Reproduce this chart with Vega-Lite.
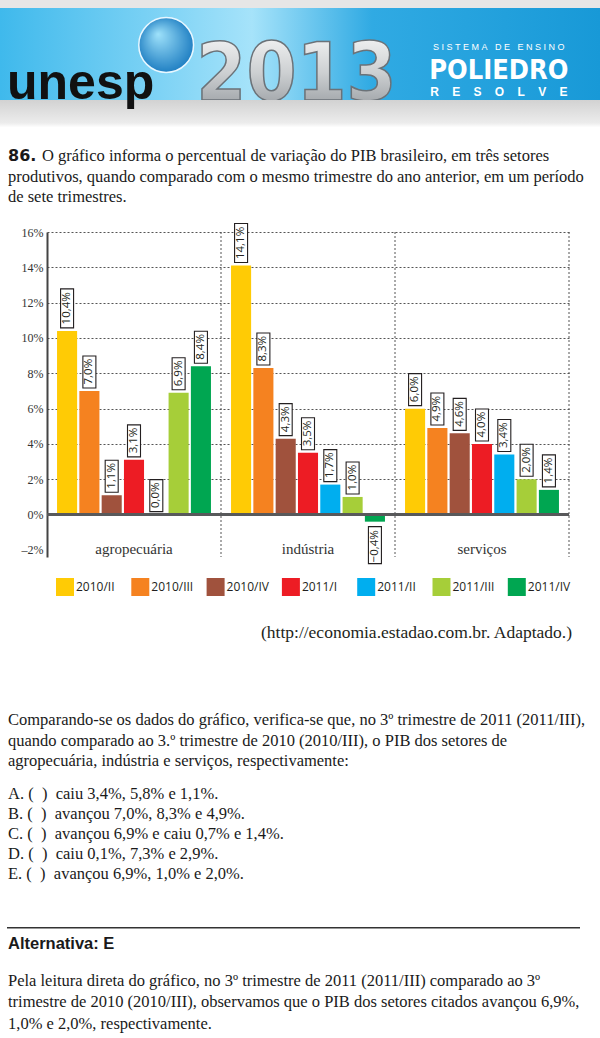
{
  "$schema": "https://vega.github.io/schema/vega-lite/v6.json",
  "background": "white",
  "padding": 0,
  "spacing": 0,
  "bounds": "flush",
  "resolve": {"scale": {"color": "independent"}, "legend": {"color": "independent"}},
  "config": {"view": {"stroke": null}},
  "datasets": {
    "pib": [
      {"setor": "agropecuária", "trimestre": "2010/II", "v": 10.4},
      {"setor": "agropecuária", "trimestre": "2010/III", "v": 7.0},
      {"setor": "agropecuária", "trimestre": "2010/IV", "v": 1.1},
      {"setor": "agropecuária", "trimestre": "2011/I", "v": 3.1},
      {"setor": "agropecuária", "trimestre": "2011/II", "v": 0.0},
      {"setor": "agropecuária", "trimestre": "2011/III", "v": 6.9},
      {"setor": "agropecuária", "trimestre": "2011/IV", "v": 8.4},
      {"setor": "indústria", "trimestre": "2010/II", "v": 14.1},
      {"setor": "indústria", "trimestre": "2010/III", "v": 8.3},
      {"setor": "indústria", "trimestre": "2010/IV", "v": 4.3},
      {"setor": "indústria", "trimestre": "2011/I", "v": 3.5},
      {"setor": "indústria", "trimestre": "2011/II", "v": 1.7},
      {"setor": "indústria", "trimestre": "2011/III", "v": 1.0},
      {"setor": "indústria", "trimestre": "2011/IV", "v": -0.4},
      {"setor": "serviços", "trimestre": "2010/II", "v": 6.0},
      {"setor": "serviços", "trimestre": "2010/III", "v": 4.9},
      {"setor": "serviços", "trimestre": "2010/IV", "v": 4.6},
      {"setor": "serviços", "trimestre": "2011/I", "v": 4.0},
      {"setor": "serviços", "trimestre": "2011/II", "v": 3.4},
      {"setor": "serviços", "trimestre": "2011/III", "v": 2.0},
      {"setor": "serviços", "trimestre": "2011/IV", "v": 1.4}
    ]
  },
  "vconcat": [
    {"width": 553, "height": 8, "data": {"values": [{}]}, "mark": {"type": "rect", "color": "#e6e6e6", "xOffset": -47}, "encoding": {"x": {"datum": 0, "type": "quantitative", "scale": {"domain": [0, 1]}, "axis": null}, "x2": {"datum": 1}}},
    {
      "width": 553, "height": 92,
      "data": {"values": [{"t": "unesp"}, {"t": "2013"}, {"t": "POLIEDRO", "s": "S\u00a0I\u00a0S\u00a0T\u00a0E\u00a0M\u00a0A\u00a0\u00a0\u00a0D\u00a0E\u00a0\u00a0\u00a0E\u00a0N\u00a0S\u00a0I\u00a0N\u00a0O", "r": "R\u00a0\u00a0\u00a0\u00a0E\u00a0\u00a0\u00a0\u00a0S\u00a0\u00a0\u00a0\u00a0O\u00a0\u00a0\u00a0\u00a0L\u00a0\u00a0\u00a0\u00a0V\u00a0\u00a0\u00a0\u00a0E"}]},
      "resolve": {"scale": {"x": "independent"}},
      "layer": [
        {"data": {"values": [{}]}, "mark": {"type": "rect", "xOffset": -47, "color": {"gradient": "linear", "x1": 0, "y1": 0, "x2": 1, "y2": 0, "stops": [{"offset": 0, "color": "#3fb9ec"}, {"offset": 0.3, "color": "#86d6f6"}, {"offset": 0.42, "color": "#a6e3fa"}, {"offset": 0.62, "color": "#30aae3"}, {"offset": 1, "color": "#1899d7"}]}}, "encoding": {"x": {"datum": 0, "type": "quantitative", "scale": {"domain": [0, 1]}, "axis": null}, "x2": {"datum": 1}}},
        {
          "layer": [
            {"transform": [{"filter": "datum.t == 'unesp'"}], "mark": {"type": "point", "shape": "circle", "size": 3000, "filled": true, "opacity": 1, "xOffset": 27, "yOffset": -9, "stroke": "#e8f7ff", "strokeWidth": 1.5, "color": {"gradient": "radial", "x1": 0.35, "y1": 0.3, "r1": 0, "x2": 0.5, "y2": 0.5, "r2": 0.6, "stops": [{"offset": 0, "color": "#9fe2fb"}, {"offset": 1, "color": "#0f72bb"}]}}, "encoding": {"x": {"field": "t", "type": "nominal", "scale": {"domain": ["unesp", "2013", "POLIEDRO"], "paddingInner": 0, "paddingOuter": 0}, "axis": null}}},
            {"transform": [{"filter": "datum.t == '2013'"}], "mark": {"type": "text", "align": "center", "baseline": "alphabetic", "dx": -27, "dy": 46, "font": "DejaVu Sans Condensed", "fontWeight": "bold", "fontSize": 80, "stroke": "#6b7278", "strokeWidth": 1.5, "color": {"gradient": "linear", "x1": 0, "y1": 0, "x2": 0, "y2": 1, "stops": [{"offset": 0, "color": "#fbfbfb"}, {"offset": 0.5, "color": "#cdd0d2"}, {"offset": 1, "color": "#8d9297"}]}}, "encoding": {"x": {"field": "t", "type": "nominal"}, "text": {"field": "t"}}},
            {"transform": [{"filter": "datum.t == 'POLIEDRO'"}], "mark": {"type": "text", "align": "center", "baseline": "alphabetic", "dx": -9, "dy": -4, "font": "Liberation Sans", "fontSize": 9, "color": "white"}, "encoding": {"x": {"field": "t", "type": "nominal"}, "text": {"field": "s"}}},
            {"transform": [{"filter": "datum.t == 'POLIEDRO'"}], "mark": {"type": "text", "align": "center", "baseline": "alphabetic", "dx": -9, "dy": 25, "font": "DejaVu Sans Condensed", "fontWeight": "bold", "fontSize": 27, "color": "white"}, "encoding": {"x": {"field": "t", "type": "nominal"}, "text": {"field": "t"}}},
            {"transform": [{"filter": "datum.t == 'POLIEDRO'"}], "mark": {"type": "text", "align": "center", "baseline": "alphabetic", "dx": -9, "dy": 42, "font": "Liberation Sans", "fontWeight": "bold", "fontSize": 12, "color": "white"}, "encoding": {"x": {"field": "t", "type": "nominal"}, "text": {"field": "r"}}}
          ]
        }
      ]
    },
    {
      "width": 553, "height": 45.75,
      "data": {"values": [{"t": "unesp"}]},
      "encoding": {"x": {"datum": 0, "type": "quantitative", "scale": {"domain": [0, 1]}, "axis": null}},
      "layer": [
        {"mark": {"type": "rect", "xOffset": -47, "color": {"gradient": "linear", "x1": 0, "y1": 0, "x2": 0, "y2": 1, "stops": [{"offset": 0, "color": "#d2d2d2"}, {"offset": 0.5, "color": "#ececec"}, {"offset": 0.6, "color": "#ffffff"}, {"offset": 1, "color": "#ffffff"}]}}, "encoding": {"x2": {"datum": 1}}},
        {"mark": {"type": "text", "align": "left", "baseline": "alphabetic", "dx": -40, "dy": -24, "font": "Liberation Sans", "fontWeight": "bold", "fontSize": 50, "color": "#111111"}, "encoding": {"text": {"field": "t"}}}
      ]
    },
    {
      "width": 553, "height": 61.5,
      "data": {"values": [
        {"n": "86.", "t": "O gráfico informa o percentual de variação do PIB brasileiro, em três setores"},
        {"t": "produtivos, quando comparado com o mesmo trimestre do ano anterior, em um período"},
        {"t": "de sete trimestres."}
      ]},
      "encoding": {
        "x": {"datum": 0, "type": "quantitative", "scale": {"domain": [0, 1]}, "axis": null},
        "y": {"field": "t", "type": "nominal", "sort": null, "axis": null, "scale": {"type": "point", "padding": 0.5}}
      },
      "layer": [
        {"mark": {"type": "text", "align": "left", "baseline": "middle", "font": "Liberation Serif", "fontSize": 16.5, "color": "#1a1a1a", "dx": {"expr": "datum.n ? -5 : -39"}}, "encoding": {"text": {"field": "t"}}},
        {"transform": [{"filter": "datum.n"}], "mark": {"type": "text", "align": "left", "baseline": "middle", "font": "DejaVu Sans", "fontWeight": "bold", "fontSize": 16, "color": "#1a1a1a", "dx": -39}, "encoding": {"text": {"field": "n"}}}
      ]
    },
    {"width": 553, "height": 23.75, "data": {"values": [{}]}, "mark": {"type": "rect", "opacity": 0}},
    {
      "width": 522, "height": 325,
      "data": {"name": "pib"},
      "layer": [
        {
          "mark": {"type": "bar"},
          "encoding": {
            "x": {"field": "setor", "type": "nominal", "sort": ["agropecuária", "indústria", "serviços"], "scale": {"paddingInner": 0, "paddingOuter": 0}, "axis": {"title": null, "domain": false, "ticks": false, "tickSize": 0, "labelAngle": 0, "labelFont": "Liberation Serif", "labelFontSize": 15, "labelColor": "#333333", "labelBaseline": "alphabetic", "labelPadding": -4, "grid": false}},
            "xOffset": {"field": "trimestre", "type": "nominal", "sort": ["2010/II", "2010/III", "2010/IV", "2011/I", "2011/II", "2011/III", "2011/IV"], "scale": {"paddingInner": 0.1, "paddingOuter": 0.45}},
            "y": {"field": "v", "type": "quantitative", "scale": {"domain": [-2.4, 16], "nice": false}, "axis": {"title": null, "values": [-2, 0, 2, 4, 6, 8, 10, 12, 14, 16], "tickCount": 12, "labelOverlap": false, "labelExpr": "replace(toString(datum.value), '-', '–') + '%'", "labelFont": "Liberation Serif", "labelFontSize": 12, "labelColor": "#333333", "ticks": false, "labelPadding": 4, "domainColor": "#444444", "domainWidth": 2, "grid": true, "gridDash": [2, 2], "gridColor": "#555555", "gridWidth": 1, "gridOpacity": {"condition": {"test": "datum.value < 0", "value": 0}, "value": 1}}},
            "color": {"field": "trimestre", "type": "nominal", "sort": ["2010/II", "2010/III", "2010/IV", "2011/I", "2011/II", "2011/III", "2011/IV"], "scale": {"domain": ["2010/II", "2010/III", "2010/IV", "2011/I", "2011/II", "2011/III", "2011/IV"], "range": ["#ffcb05", "#f58220", "#a0523d", "#ed1c24", "#00aeef", "#a6ce39", "#00a651"]}, "legend": {"title": null, "orient": "none", "legendX": 9, "legendY": 346, "direction": "horizontal", "columns": 7, "gridAlign": "all", "columnPadding": 12.3, "symbolType": "square", "symbolSize": 324, "symbolStrokeWidth": 0, "symbolOpacity": 1, "labelFont": "Open Sans", "labelFontSize": 12, "labelColor": "#231f20", "labelOffset": 2, "padding": 0}}
          }
        },
        {"data": {"values": [{"setor": "indústria"}, {"setor": "serviços"}]}, "mark": {"type": "rule", "color": "#555555", "strokeDash": [2, 2], "strokeWidth": 1}, "encoding": {"x": {"field": "setor", "type": "nominal", "bandPosition": 0}}},
        {"data": {"values": [{"setor": "serviços"}]}, "mark": {"type": "rule", "color": "#555555", "strokeDash": [2, 2], "strokeWidth": 1}, "encoding": {"x": {"field": "setor", "type": "nominal", "bandPosition": 1}}},
        {"data": {"values": [{}]}, "mark": {"type": "rule", "color": "#58595b", "strokeWidth": 3}, "encoding": {"y": {"datum": 0, "type": "quantitative"}}},
        {"transform": [{"filter": "datum.v >= 10"}], "mark": {"type": "point", "shape": "M-6.5,-3L6.5,-3L6.5,-42L-6.5,-42Z", "size": 4, "filled": true, "fill": "white", "stroke": "#231f20", "strokeWidth": 1.1, "opacity": 1}, "encoding": {"x": {"field": "setor", "type": "nominal"}, "xOffset": {"field": "trimestre", "type": "nominal"}, "y": {"field": "v", "type": "quantitative"}}},
        {"transform": [{"filter": "datum.v >= 0 && datum.v < 10"}], "mark": {"type": "point", "shape": "M-6.5,-3L6.5,-3L6.5,-35L-6.5,-35Z", "size": 4, "filled": true, "fill": "white", "stroke": "#231f20", "strokeWidth": 1.1, "opacity": 1}, "encoding": {"x": {"field": "setor", "type": "nominal"}, "xOffset": {"field": "trimestre", "type": "nominal"}, "y": {"field": "v", "type": "quantitative"}}},
        {"transform": [{"filter": "datum.v < 0"}], "mark": {"type": "point", "shape": "M-6.5,5L6.5,5L6.5,42L-6.5,42Z", "size": 4, "filled": true, "fill": "white", "stroke": "#231f20", "strokeWidth": 1.1, "opacity": 1}, "encoding": {"x": {"field": "setor", "type": "nominal"}, "xOffset": {"field": "trimestre", "type": "nominal"}, "y": {"field": "v", "type": "quantitative"}}},
        {"transform": [{"filter": "datum.v >= 0"}], "mark": {"type": "text", "angle": 270, "align": "left", "baseline": "middle", "dx": 6.5, "font": "Open Sans", "fontSize": 11.5, "color": "#231f20", "text": {"expr": "replace(format(datum.v, '.1f'), '.', ',') + '%'"}}, "encoding": {"x": {"field": "setor", "type": "nominal"}, "xOffset": {"field": "trimestre", "type": "nominal"}, "y": {"field": "v", "type": "quantitative"}}},
        {"transform": [{"filter": "datum.v < 0"}], "mark": {"type": "text", "angle": 270, "align": "right", "baseline": "middle", "dx": -8.5, "font": "Open Sans", "fontSize": 11.5, "color": "#231f20", "text": {"expr": "replace(format(datum.v, '.1f'), '.', ',') + '%'"}}, "encoding": {"x": {"field": "setor", "type": "nominal"}, "xOffset": {"field": "trimestre", "type": "nominal"}, "y": {"field": "v", "type": "quantitative"}}}
      ]
    },
    {"width": 553, "height": 66, "data": {"values": [{}]}, "mark": {"type": "rect", "opacity": 0}},
    {
      "width": 553, "height": 20,
      "data": {"values": [{"t": "(http://economia.estadao.com.br. Adaptado.)"}]},
      "mark": {"type": "text", "align": "right", "baseline": "middle", "font": "Liberation Serif", "fontSize": 17.5, "color": "#231f20", "dx": -28},
      "encoding": {"x": {"datum": 1, "type": "quantitative", "scale": {"domain": [0, 1]}, "axis": null}, "text": {"field": "t"}}
    },
    {"width": 553, "height": 66.75, "data": {"values": [{}]}, "mark": {"type": "rect", "opacity": 0}},
    {
      "width": 553, "height": 61.5,
      "data": {"values": [
        {"t": "Comparando-se os dados do gráfico, verifica-se que, no 3º trimestre de 2011 (2011/III),"},
        {"t": "quando comparado ao 3.º trimestre de 2010 (2010/III), o PIB dos setores de"},
        {"t": "agropecuária, indústria e serviços, respectivamente:"}
      ]},
      "mark": {"type": "text", "align": "left", "baseline": "middle", "font": "Liberation Serif", "fontSize": 16.5, "color": "#1a1a1a", "dx": -39},
      "encoding": {
        "x": {"datum": 0, "type": "quantitative", "scale": {"domain": [0, 1]}, "axis": null},
        "y": {"field": "t", "type": "nominal", "sort": null, "axis": null, "scale": {"type": "point", "padding": 0.5}},
        "text": {"field": "t"}
      }
    },
    {"width": 553, "height": 11.75, "data": {"values": [{}]}, "mark": {"type": "rect", "opacity": 0}},
    {
      "width": 553, "height": 100,
      "data": {"values": [
        {"t": "A. (\u00a0\u00a0)\u00a0\u00a0caiu 3,4%, 5,8% e 1,1%."},
        {"t": "B. (\u00a0\u00a0)\u00a0\u00a0avançou 7,0%, 8,3% e 4,9%."},
        {"t": "C. (\u00a0\u00a0)\u00a0\u00a0avançou 6,9% e caiu 0,7% e 1,4%."},
        {"t": "D. (\u00a0\u00a0)\u00a0\u00a0caiu 0,1%, 7,3% e 2,9%."},
        {"t": "E. (\u00a0\u00a0)\u00a0\u00a0avançou 6,9%, 1,0% e 2,0%."}
      ]},
      "mark": {"type": "text", "align": "left", "baseline": "middle", "font": "Liberation Serif", "fontSize": 16.5, "color": "#1a1a1a", "dx": -39},
      "encoding": {
        "x": {"datum": 0, "type": "quantitative", "scale": {"domain": [0, 1]}, "axis": null},
        "y": {"field": "t", "type": "nominal", "sort": null, "axis": null, "scale": {"type": "point", "padding": 0.5}},
        "text": {"field": "t"}
      }
    },
    {"width": 553, "height": 43, "data": {"values": [{}]}, "mark": {"type": "rect", "opacity": 0}},
    {"width": 553, "height": 1.5, "data": {"values": [{}]}, "mark": {"type": "rect", "color": "#333333", "xOffset": -40, "x2Offset": -20}, "encoding": {"x": {"datum": 0, "type": "quantitative", "scale": {"domain": [0, 1]}, "axis": null}, "x2": {"datum": 1}}},
    {"width": 553, "height": 5, "data": {"values": [{}]}, "mark": {"type": "rect", "opacity": 0}},
    {
      "width": 553, "height": 20,
      "data": {"values": [{"t": "Alternativa: E"}]},
      "mark": {"type": "text", "align": "left", "baseline": "middle", "font": "Liberation Sans", "fontWeight": "bold", "fontSize": 16.5, "color": "#1a1a1a", "dx": -39},
      "encoding": {"x": {"datum": 0, "type": "quantitative", "scale": {"domain": [0, 1]}, "axis": null}, "text": {"field": "t"}}
    },
    {"width": 553, "height": 15.75, "data": {"values": [{}]}, "mark": {"type": "rect", "opacity": 0}},
    {
      "width": 553, "height": 64.5,
      "data": {"values": [
        {"t": "Pela leitura direta do gráfico, no 3º trimestre de 2011 (2011/III) comparado ao 3º"},
        {"t": "trimestre de 2010 (2010/III), observamos que o PIB dos setores citados avançou 6,9%,"},
        {"t": "1,0% e 2,0%, respectivamente."}
      ]},
      "mark": {"type": "text", "align": "left", "baseline": "middle", "font": "Liberation Serif", "fontSize": 16.5, "color": "#1a1a1a", "dx": -39},
      "encoding": {
        "x": {"datum": 0, "type": "quantitative", "scale": {"domain": [0, 1]}, "axis": null},
        "y": {"field": "t", "type": "nominal", "sort": null, "axis": null, "scale": {"type": "point", "padding": 0.5}},
        "text": {"field": "t"}
      }
    }
  ]
}
